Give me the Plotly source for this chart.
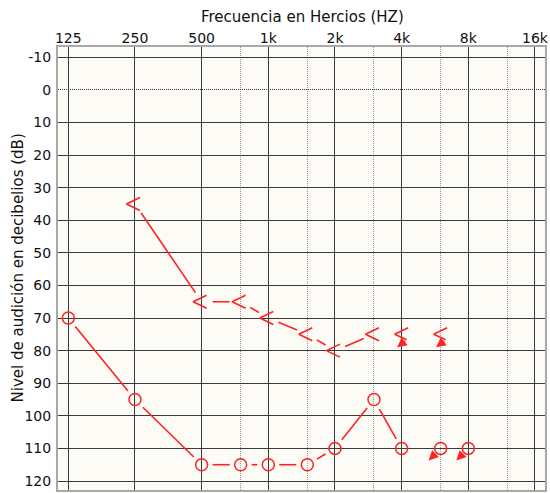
import math
import plotly.graph_objects as go

# ---------------- data ----------------
freq_ticks = [125, 250, 500, 1000, 2000, 4000, 8000, 16000]
freq_tick_labels = ["125", "250", "500", "1k", "2k", "4k", "8k", "16k"]
half_octaves = [750, 1500, 3000, 6000, 12000]
db_ticks = list(range(-10, 121, 10))

# air conduction (circles)
ac_freq = [125, 250, 500, 750, 1000, 1500, 2000, 3000, 4000, 6000, 8000]
ac_db = [70, 95, 115, 115, 115, 115, 110, 95, 110, 110, 110]
ac_noresp = [False, False, False, False, False, False, False, False, False, True, True]

# bone conduction (<)
bc_freq = [250, 500, 750, 1000, 1500, 2000, 3000, 4000, 6000]
bc_db = [35, 65, 65, 70, 75, 80, 75, 75, 75]
bc_noresp = [False, False, False, False, False, False, False, True, True]

x_title = "Frecuencia en Hercios (HZ)"
y_title = "Nivel de audición en decibelios (dB)"

# ---------------- style ----------------
RED = "#ff2222"
GRID = "#3a3a3a"
MINOR = "#9a9a9a"
FRAME = "#a8a8a8"
BG = "#fcfbf6"
FONT = "DejaVu Sans"
TXT = "#111111"

W, H = 550, 493
M = dict(l=58, r=5, t=47, b=3)
x_range = [2.0504, 4.2493]      # log10 of frequency
y_range = [122.76, -13.16]      # reversed dB axis

plot_w = W - M["l"] - M["r"]
plot_h = H - M["t"] - M["b"]
kx = plot_w / (x_range[1] - x_range[0])
ky = plot_h / (y_range[0] - y_range[1])


def offset(f, v, dx, dy):
    """point shifted by (dx, dy) screen pixels from data point (f, v)"""
    return 10 ** ((math.log10(f) * kx + dx) / kx), v + dy / ky


def gapped(fs, vs, mask, gap=11.0):
    pts = [(f, v) for f, v, m in zip(fs, vs, mask) if not m]
    xs, ys = [], []
    for (f0, v0), (f1, v1) in zip(pts[:-1], pts[1:]):
        X0, Y0 = math.log10(f0) * kx, v0 * ky
        X1, Y1 = math.log10(f1) * kx, v1 * ky
        d = math.hypot(X1 - X0, Y1 - Y0)
        t = gap / d
        if t >= 0.5:
            continue
        xa, ya = X0 + (X1 - X0) * t, Y0 + (Y1 - Y0) * t
        xb, yb = X1 - (X1 - X0) * t, Y1 - (Y1 - Y0) * t
        xs += [10 ** (xa / kx), 10 ** (xb / kx), None]
        ys += [ya / ky, yb / ky, None]
    return xs, ys


# glyph templates (screen pixels, y down)
LT = [(5, -6.5), (-8.5, 0), (5, 6.5)]
LT_NR = [(6.5, -6.5), (-7, 0), (5, 5.5)]

fig = go.Figure()

axs, ays = gapped(ac_freq, ac_db, ac_noresp)
fig.add_trace(go.Scatter(x=axs, y=ays, mode="lines",
                         line=dict(color=RED, width=1.6), hoverinfo="skip", showlegend=False))
fig.add_trace(go.Scatter(x=ac_freq, y=ac_db, mode="markers",
                         marker=dict(symbol="circle-open", size=12, color=RED,
                                     line=dict(width=1.5, color=RED)),
                         showlegend=False))

bxs, bys = gapped(bc_freq, bc_db, bc_noresp)
fig.add_trace(go.Scatter(x=bxs, y=bys, mode="lines",
                         line=dict(color=RED, width=1.6), hoverinfo="skip", showlegend=False))

gx, gy = [], []
annotations = []
for f, v, nr in zip(bc_freq, bc_db, bc_noresp):
    for dx, dy in (LT_NR if nr else LT):
        px, py = offset(f, v, dx, dy)
        gx.append(px)
        gy.append(py)
    gx.append(None)
    gy.append(None)
    if nr:
        annotations.append(dict(x=math.log10(f), y=v, xref="x", yref="y", text="",
                                showarrow=True, arrowhead=2, arrowsize=1.2, arrowwidth=1.6,
                                arrowcolor=RED, ax=9.5, ay=-7.5, xshift=-4.5, yshift=-13,
                                standoff=0))
fig.add_trace(go.Scatter(x=gx, y=gy, mode="lines", line=dict(color=RED, width=1.6),
                         hoverinfo="skip", showlegend=False))
# invisible trace to activate overlay axis
fig.add_trace(go.Scatter(x=[None], y=[None], yaxis="y2", showlegend=False))

for f, v, nr in zip(ac_freq, ac_db, ac_noresp):
    if nr:
        annotations.append(dict(x=math.log10(f), y=v, xref="x", yref="y", text="",
                                showarrow=True, arrowhead=2, arrowsize=1.2, arrowwidth=1.6,
                                arrowcolor=RED, ax=7.5, ay=-7.5, xshift=-12, yshift=-12,
                                standoff=0))

annotations.append(dict(text=x_title, xref="paper", yref="paper", x=0.5, y=1,
                        xanchor="center", yanchor="middle", yshift=30, xshift=1,
                        showarrow=False, font=dict(size=15)))
annotations.append(dict(text=y_title, xref="paper", yref="paper", x=0, y=0.5,
                        xanchor="center", yanchor="middle", xshift=-41, textangle=-90,
                        showarrow=False, font=dict(size=15)))

fig.update_layout(
    width=W, height=H, margin=M,
    paper_bgcolor="white", plot_bgcolor=BG,
    font=dict(family=FONT, size=14, color=TXT),
    showlegend=False,
    annotations=annotations,
    xaxis=dict(type="log", range=x_range, side="top", automargin=False,
               tickmode="array", tickvals=freq_ticks, ticktext=freq_tick_labels,
               ticks="", showgrid=True, gridcolor=GRID, gridwidth=1, ticklabelstandoff=-4,
               minor=dict(tickmode="array", tickvals=half_octaves, showgrid=True,
                          griddash="1px,1px", gridcolor=MINOR, gridwidth=1, ticks=""),
               showline=True, mirror=True, linecolor=FRAME, linewidth=2,
               zeroline=False, tickfont=dict(size=14)),
    yaxis=dict(range=y_range, tickmode="array", automargin=False,
               tickvals=[t for t in db_ticks if t != 0],
               ticktext=[str(t) for t in db_ticks if t != 0],
               ticks="", showgrid=True, gridcolor=GRID, gridwidth=1, ticklabelstandoff=2,
               showline=True, mirror=True, linecolor=FRAME, linewidth=2,
               zeroline=False, tickfont=dict(size=14)),
    yaxis2=dict(overlaying="y", side="left", range=y_range, tickmode="array", automargin=False,
                tickvals=[0], ticktext=["0"], ticks="", showgrid=True, griddash="1px,1px",
                gridcolor=GRID, gridwidth=1, showline=True, linecolor=FRAME, linewidth=2,
                ticklabelstandoff=2, zeroline=False, tickfont=dict(size=14)),
)

fig.write_html("out.html",
               config={"displayModeBar": False},
               post_script="document.body.style.margin='0';"
                           "document.body.style.overflow='hidden';"
                           "document.documentElement.style.overflow='hidden';")
